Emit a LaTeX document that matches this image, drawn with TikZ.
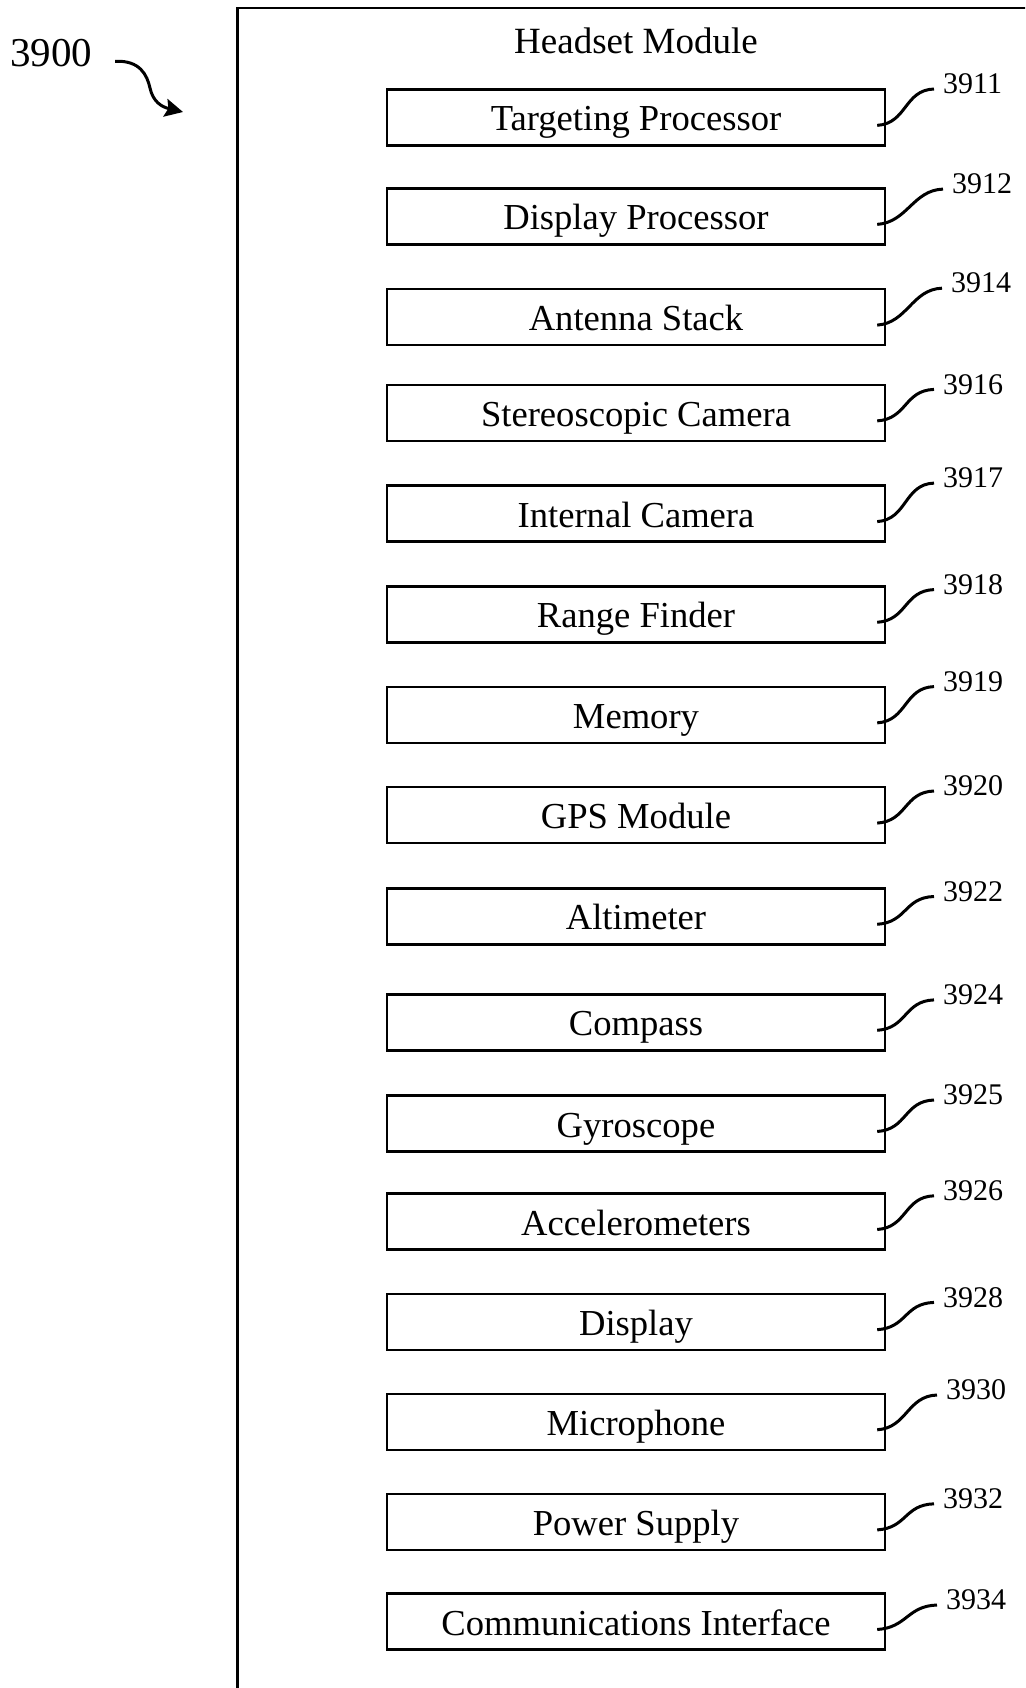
\documentclass[tikz,border=0pt]{standalone}
\usepackage{fontspec}
\setmainfont{Liberation Serif}
\usetikzlibrary{arrows.meta,calc}
\begin{document}
\begin{tikzpicture}[x=1pt,y=-1pt,
  comp/.style={draw,line width=2.4pt,minimum width=498pt,minimum height=56pt,inner sep=0pt,
    text height=27pt,text depth=0pt,font=\fontsize{36.6}{40}\selectfont},
  reflbl/.style={anchor=west,inner sep=0pt,font=\fontsize{30}{32}\selectfont},
  leader/.style={line width=3pt},
  frame/.style={draw,line width=2.5pt,anchor=north west,minimum width=820pt,minimum height=1720pt,inner sep=0pt}]
\useasboundingbox (0,0) rectangle (1025,1688);
\clip (0,0) rectangle (1025,1688);
% outer frame (runs off the page right and bottom)
\node[frame] (frm) at (236,7) {};
\node[inner sep=0pt,anchor=base,font=\fontsize{37}{40}\selectfont] (title) at (636,53.3) {Headset Module};
% figure number
\node[inner sep=0pt,anchor=base,font=\fontsize{41}{44}\selectfont] (n3900) at (51,66.7) {3900};
\coordinate (a3900) at (183,112);
\draw[line width=3pt,-{Stealth[length=18pt,width=18pt,inset=3pt]}]
  ($(n3900.east)+(23,8)$) .. controls +(25,-1) and (147,75) .. (150,88)
  .. controls (153,102) and (162,107) .. (a3900);
% components
\foreach \i/\cy/\txt/\num/\lx/\ly in {
  1/117.4/Targeting Processor/3911/943/84.0,
  2/216.4/Display Processor/3912/952/184.1,
  3/317.1/Antenna Stack/3914/951/283.2,
  4/412.9/Stereoscopic Camera/3916/943/384.4,
  5/513.6/Internal Camera/3917/943/478.1,
  6/614.3/Range Finder/3918/943/584.6,
  7/714.9/Memory/3919/943/681.6,
  8/815.1/GPS Module/3920/943/786.0,
  9/916.3/Altimeter/3922/943/891.5,
  10/1022.3/Compass/3924/943/994.9,
  11/1123.5/Gyroscope/3925/943/1095.0,
  12/1221.5/Accelerometers/3926/943/1190.8,
  13/1321.7/Display/3928/943/1297.4,
  14/1421.8/Microphone/3930/946/1390.0,
  15/1521.9/Power Supply/3932/943/1498.8,
  16/1621.5/Communications Interface/3934/946/1600.0}{
  \node[comp] (b\i) at (636,\cy) {\txt};
  \node[reflbl] (l\i) at (\lx,\ly) {\num};
  \coordinate (s\i) at ($(b\i.east)+(-9,8)$);
  \coordinate (e\i) at ($(l\i.west)+(-9,5)$);
  \draw[leader] (s\i) .. controls ($(s\i)+(30,-2)$) and ($(e\i)+(-30,1)$) .. (e\i);
}
\end{tikzpicture}
\end{document}
